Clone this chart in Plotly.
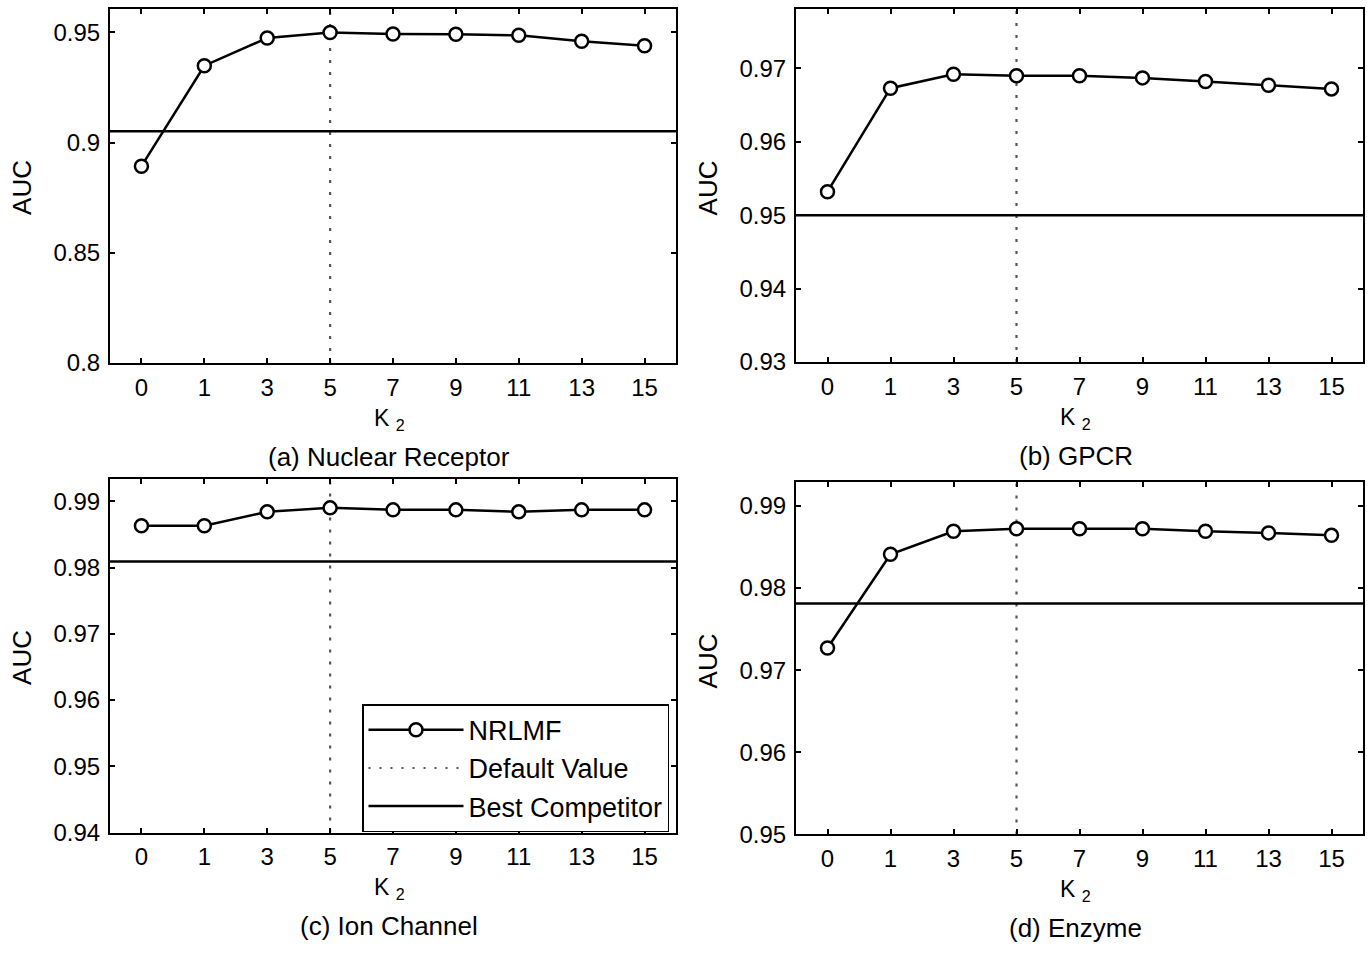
import plotly.graph_objects as go

k_labels = ["0", "1", "3", "5", "7", "9", "11", "13", "15"]

auc_nuclear = [0.8893, 0.9349, 0.9475, 0.9500, 0.9493, 0.9492, 0.9487, 0.9460, 0.9440]
auc_gpcr = [0.9532, 0.9673, 0.9692, 0.9690, 0.9690, 0.9687, 0.9682, 0.9677, 0.9672]
auc_ion = [0.9863, 0.9863, 0.9884, 0.9890, 0.9887, 0.9887, 0.9884, 0.9887, 0.9887]
auc_enzyme = [0.9727, 0.9841, 0.9869, 0.9872, 0.9872, 0.9872, 0.9869, 0.9867, 0.9864]

best_competitor = [0.9052, 0.9500, 0.9809, 0.9781]
default_k = "5"

captions = ["(a) Nuclear Receptor", "(b) GPCR", "(c) Ion Channel", "(d) Enzyme"]
y_ranges = [[0.80, 0.9607], [0.93, 0.9781], [0.94, 0.9933], [0.95, 0.99285]]
y_ticks = [[0.80, 0.85, 0.90, 0.95], [0.93, 0.94, 0.95, 0.96, 0.97],
           [0.94, 0.95, 0.96, 0.97, 0.98, 0.99], [0.95, 0.96, 0.97, 0.98, 0.99]]
y_ticktext = [["0.8", "0.85", "0.9", "0.95"], ["0.93", "0.94", "0.95", "0.96", "0.97"],
              ["0.94", "0.95", "0.96", "0.97", "0.98", "0.99"], ["0.95", "0.96", "0.97", "0.98", "0.99"]]
series = [auc_nuclear, auc_gpcr, auc_ion, auc_enzyme]

W, H = 1367, 955


def px(xp):
    return xp / W


def py(yp):
    return 1 - yp / H


# pixel boxes of plot areas (left, right, top, bottom)
boxes = [(110, 676, 9, 368), (796, 1363, 9, 367), (110, 676, 486, 844), (796, 1363, 489, 846)]

FONT = "Liberation Sans, Arial, Helvetica, sans-serif"
fig = go.Figure()
xpos = list(range(len(k_labels)))
xr = [-0.5, len(k_labels) - 0.5]
dpos = k_labels.index(default_k)

annotations = []
for i in range(4):
    ax = "" if i == 0 else str(i + 1)
    xa, ya = "x" + ax, "y" + ax
    legend_on = (i == 2)
    # default value (dotted vertical line)
    fig.add_trace(go.Scatter(
        x=[dpos, dpos], y=y_ranges[i], mode="lines", name="Default Value",
        line=dict(color="#555555", width=2.2, dash="3px,9px"),
        xaxis=xa, yaxis=ya, showlegend=False, legendrank=2))
    # best competitor (horizontal line)
    fig.add_trace(go.Scatter(
        x=xr, y=[best_competitor[i]] * 2, mode="lines", name="Best Competitor",
        line=dict(color="black", width=2.5),
        xaxis=xa, yaxis=ya, showlegend=legend_on, legendrank=3))
    # NRLMF
    fig.add_trace(go.Scatter(
        x=xpos, y=series[i], mode="lines+markers", name="NRLMF",
        line=dict(color="black", width=2.5),
        marker=dict(symbol="circle", size=13, color="white", line=dict(color="black", width=2.5)),
        xaxis=xa, yaxis=ya, showlegend=legend_on, legendrank=1))
    if legend_on:
        fig.add_trace(go.Scatter(
            x=[None], y=[None], mode="lines", name="Default Value",
            line=dict(color="#555555", width=2, dash="2px,9px"),
            xaxis=xa, yaxis=ya, showlegend=True, legendrank=2))

    l, r, t, b = boxes[i]
    common = dict(showline=True, linecolor="black", linewidth=2, mirror="ticks",
                  ticks="inside", ticklen=5, tickwidth=1.5, tickcolor="black",
                  showgrid=False, zeroline=False,
                  tickfont=dict(family=FONT, size=24, color="black"))
    fig.layout["xaxis" + ax] = dict(domain=[px(l), px(r)], range=xr, tickvals=xpos, ticktext=k_labels,
                                    anchor=ya, ticklabelstandoff=2, **common)
    fig.layout["yaxis" + ax] = dict(domain=[py(b), py(t)], range=y_ranges[i], tickvals=y_ticks[i],
                                    ticktext=y_ticktext[i], anchor=xa, ticklabelstandoff=3, **common)
    cx = (l + r) / 2
    annotations.append(dict(text="K <sub>2</sub>", x=px(cx - 4), y=py(b + 57), xref="paper", yref="paper",
                            showarrow=False, font=dict(family=FONT, size=23, color="black"),
                            xanchor="center", yanchor="middle"))
    annotations.append(dict(text=captions[i], x=px(cx - 4), y=py(b + 95), xref="paper", yref="paper",
                            showarrow=False, font=dict(family=FONT, size=26, color="black"),
                            xanchor="center", yanchor="middle"))
    annotations.append(dict(text="AUC", x=px(l - 88), y=py((t + b) / 2 + 2), xref="paper", yref="paper",
                            showarrow=False, textangle=-90, font=dict(family=FONT, size=26, color="black"),
                            xanchor="center", yanchor="middle"))

fig.update_layout(
    width=W, height=H, margin=dict(l=0, r=0, t=0, b=0),
    paper_bgcolor="white", plot_bgcolor="white",
    annotations=annotations,
    legend=dict(x=px(362), y=py(714), xanchor="left", yanchor="top",
                bgcolor="white", bordercolor="black", borderwidth=1.5,
                font=dict(family=FONT, size=27, color="black"),
                itemwidth=95, tracegroupgap=0, traceorder="normal"),
)

fig.write_html("out.html", config={"displayModeBar": False},
               post_script="document.body.style.margin='0';document.body.style.overflow='hidden';")
